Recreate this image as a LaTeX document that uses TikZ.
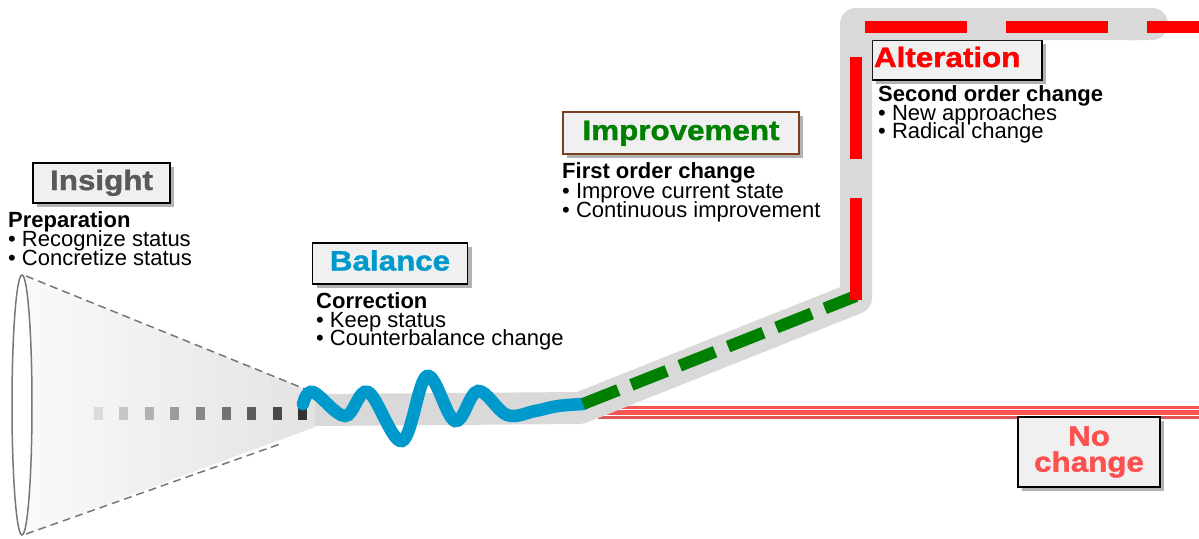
\documentclass[tikz,border=0pt]{standalone}
\usepackage{fontspec}
\setmainfont{Liberation Sans}
\newfontfamily\titlefont[FakeStretch=1.12,FakeBold=1.4]{Liberation Sans Bold}
\usetikzlibrary{shadows,arrows.meta}
\definecolor{bandgray}{HTML}{D9D9D9}
\definecolor{insightgray}{HTML}{595959}
\definecolor{balblue}{HTML}{0099CC}
\definecolor{impgreen}{HTML}{008000}
\definecolor{impbrown}{HTML}{7A3E1E}
\definecolor{altred}{HTML}{FF0000}
\definecolor{nored}{HTML}{FF5050}
\definecolor{noline}{HTML}{F85555}
\definecolor{nolinedark}{HTML}{E05555}
\definecolor{conegray}{HTML}{777777}
\begin{document}
\begin{tikzpicture}[x=1pt,y=-1pt,
  box/.style={draw=black, line width=1.6pt, fill=gray!12,
    drop shadow={shadow xshift=4pt, shadow yshift=-4pt, opacity=0.3, fill=black},
    inner sep=0pt, text height=20pt, text depth=6pt,
    font=\titlefont\fontsize{28}{28}\selectfont},
  body/.style={anchor=base west, inner sep=0pt, font=\fontsize{22}{19}\selectfont},
  head/.style={anchor=base west, inner sep=0pt, font=\bfseries\fontsize{22}{19}\selectfont},
  bandline/.style={draw=bandgray, line width=32pt, line join=round},
  wave/.style={draw=balblue, line width=12.5pt, line cap=round},
  greendash/.style={draw=impgreen, line width=12pt, dash pattern=on 38pt off 14pt},
  reddash/.style={draw=altred, line width=12pt, dash pattern=on 102pt off 39pt},
]
\useasboundingbox (0,0) rectangle (1199,538);
\fill[white] (0,0) rectangle (1199,538);

% coordinates
\coordinate (tip) at (315,410);
\coordinate (w0) at (583,404);
\coordinate (bend) at (856,296);
\coordinate (top) at (856,27);
\coordinate (rend) at (1199,27);
\coordinate (nl0) at (598,412.5);
\coordinate (nl1) at (1199,412.5);

% cone
\shade[left color=gray!4, right color=gray!22]
  (22,275) -- (315,393) -- (315,427) -- (22,535) -- cycle;
\draw[conegray, line width=1.5pt, dash pattern=on 8pt off 5pt] (26,276) -- (310,391);
\draw[conegray, line width=1.5pt, dash pattern=on 8pt off 5pt] (26,534) -- (283,443);
\draw[conegray, line width=1.5pt, fill=white] (22,405) ellipse [x radius=10, y radius=130];

% no change line: red band with two white stripes
\draw[noline, line width=13pt] (nl0) -- (nl1);
\draw[nolinedark, line width=2.5pt] ([yshift=-5.2pt]nl0) -- ([yshift=-5.2pt]nl1);
\draw[white, line width=1.5pt] ([yshift=3pt]nl0) -- ([yshift=3pt]nl1);
\draw[white, line width=1.5pt] ([yshift=-3.2pt]nl0) -- ([yshift=-3.2pt]nl1);

% Alteration box (under the band)
\node[box, minimum width=170pt, minimum height=40pt, text width=166pt, align=left, text=altred] (alteration) at (957,60) {Alteration};

% band
\draw[bandline, -{Round Cap[]}] (tip) -- (580,408) -- (856,298) -- (856,24) -- (1168,24);

% dotted squares
\foreach \i in {0,...,8} {
  \pgfmathsetmacro\c{14+8.25*\i}
  \fill[black!\c] ({98+25.6*\i-4.5},406.5) rectangle ++(9,13);
}

% wave
\draw[wave] plot[smooth, tension=0.6] coordinates {(303,404) (313,392) (345,416) (368,392) (402,441) (427,376) (455,421) (478,391) (507,415) (535,411) (558,406) (w0)};

% green dashed
\draw[greendash] (w0) -- (bend);
% red dashed
\draw[reddash] (856,300) -- (top) -- (rend);

% boxes
\node[box, minimum width=137pt, minimum height=40pt, text=insightgray] (insight) at (101.5,183) {Insight};
\node[box, minimum width=155pt, minimum height=41pt, text=balblue] (balance) at (390,263.5) {Balance};
\node[box, draw=impbrown, minimum width=236pt, minimum height=42pt, text=impgreen] (improvement) at (681,133) {Improvement};
\node[box, minimum width=142pt, minimum height=70pt, align=center, text=nored, text height=, text depth=, font=\titlefont\fontsize{28}{26}\selectfont] (nochange) at (1089,452) {No\\change};

% texts
\node[head] (prep) at (8,227) {Preparation};
\node[body] (prep1) at (8,246) {• Recognize status};
\node[body] (prep2) at (8,265) {• Concretize status};

\node[head] (corr) at (316,308) {Correction};
\node[body] (corr1) at (316,327) {• Keep status};
\node[body] (corr2) at (316,345) {• Counterbalance change};

\node[head] (first) at (562,178) {First order change};
\node[body] (first1) at (562,198) {• Improve current state};
\node[body] (first2) at (562,217) {• Continuous improvement};

\node[head] (second) at (878,101) {Second order change};
\node[body] (second1) at (878,120) {• New approaches};
\node[body] (second2) at (878,138) {• Radical change};
\end{tikzpicture}
\end{document}
